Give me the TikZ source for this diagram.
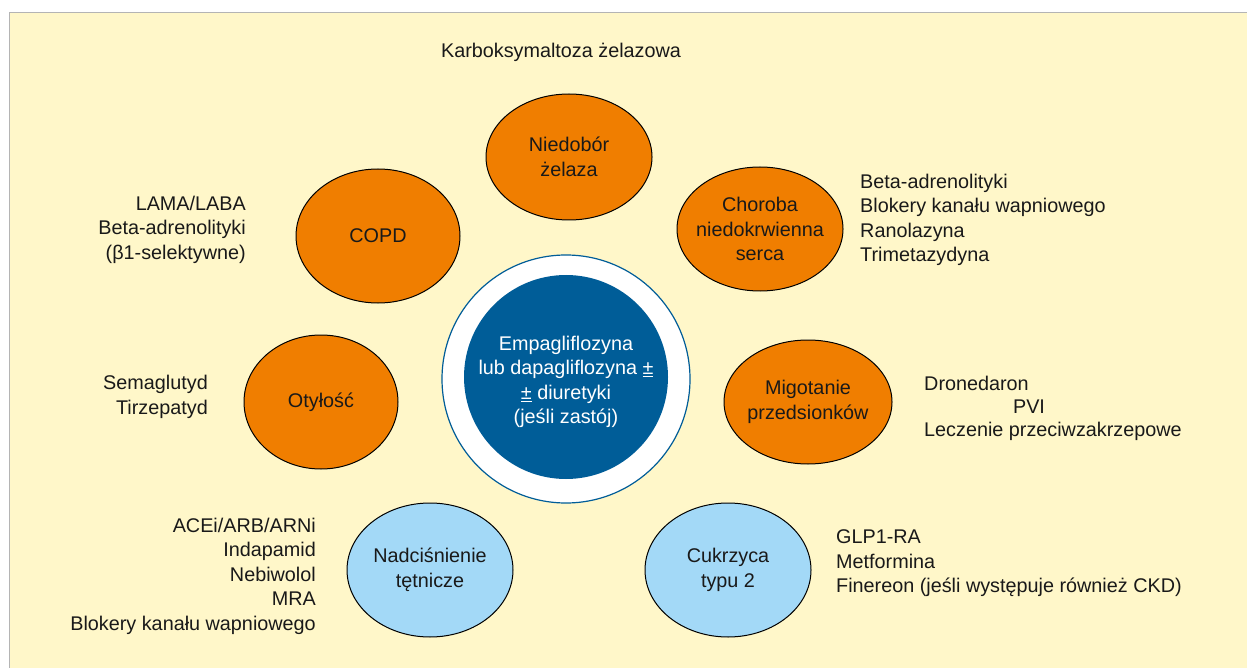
\documentclass[tikz,border=0pt]{standalone}
\usepackage{fontspec}
\setmainfont{Liberation Sans}
\usetikzlibrary{shapes.geometric}
\definecolor{bgyellow}{RGB}{255,247,201}
\definecolor{framegray}{RGB}{180,180,180}
\definecolor{myorange}{RGB}{240,126,0}
\definecolor{lightblue}{RGB}{163,217,247}
\definecolor{darkblue}{RGB}{0,93,152}
\begin{document}
\begin{tikzpicture}[x=1pt,y=-1pt,
  txt/.style={font=\fontsize{19.8}{24.5}\selectfont, inner sep=0pt, text=black!90},
  disease/.style={ellipse, draw=black, line width=1pt, minimum width=166pt, minimum height=126pt, inner sep=0pt},
  orangeell/.style={disease, fill=myorange},
  blueell/.style={disease, fill=lightblue},
  inlabel/.style={txt, align=center},
  leftlist/.style={txt, align=left, anchor=west},
  rightlist/.style={txt, align=right, anchor=east}]
\useasboundingbox (0,0) rectangle (1247,668);
\fill[white] (0,0) rectangle (1247,668);
\fill[bgyellow] (9,12) rectangle (1247,668);
\draw[framegray, line width=1.5pt] (9.5,668) -- (9.5,12.5) -- (1247,12.5);

% central circle
\node[circle, draw=darkblue, line width=1.2pt, fill=white, minimum size=248pt, inner sep=0pt] (outer) at (566,379) {};
\node[circle, fill=darkblue, minimum size=204pt, inner sep=0pt] (center) at (566,377) {};
\node[inlabel, text=white] (centerL) at (566,382)
  {Empagliflozyna\\lub dapagliflozyna \underline{±}\\\underline{±} diuretyki\\(jeśli zastój)};

% diseases
\node[orangeell] (iron) at (569,157) {};
\node[inlabel] (ironL) at (iron.center) {Niedobór\\żelaza};
\node[orangeell, minimum width=164pt, minimum height=134pt] (copd) at (378,236) {};
\node[inlabel] (copdL) at (copd.center) {COPD};
\node[orangeell, minimum height=124pt] (ihd) at (760,229) {};
\node[inlabel] (ihdL) at (ihd.center) {Choroba\\niedokrwienna\\serca};
\node[orangeell, minimum width=154pt, minimum height=134pt] (obes) at (321,402) {};
\node[inlabel] (obesL) at (obes.center) {Otyłość};
\node[orangeell, minimum width=168pt, minimum height=124pt] (af) at (808,402) {};
\node[inlabel] (afL) at (af.center) {Migotanie\\przedsionków};
\node[blueell, minimum height=134pt] (htn) at (430,570) {};
\node[inlabel] (htnL) at (htn.center) {Nadciśnienie\\tętnicze};
\node[blueell, minimum height=134pt] (dm) at (728,570) {};
\node[inlabel] (dmL) at (dm.center) {Cukrzyca\\typu 2};

% treatments
\node[txt] (ironT) at (561,52) {Karboksymaltoza żelazowa};
\node[rightlist] (copdT) at (246,229.5) {LAMA/LABA\\Beta-adrenolityki\\(β1-selektywne)};
\node[leftlist] (ihdT) at (860,220) {Beta-adrenolityki\\Blokery kanału wapniowego\\Ranolazyna\\Trimetazydyna};
\node[rightlist] (obesT) at (208,397) {Semaglutyd\\Tirzepatyd};
\node[txt, anchor=west] (afT1) at (924,383) {Dronedaron};
\node[txt] (afT2) at (1029,407) {PVI};
\node[txt, anchor=west] (afT3) at (924,431) {Leczenie przeciwzakrzepowe};
\node[rightlist] (htnT) at (316,576) {ACEi/ARB/ARNi\\Indapamid\\Nebiwolol\\MRA\\Blokery kanału wapniowego};
\node[leftlist] (dmT) at (836,563.5) {GLP1-RA\\Metformina\\Finereon (jeśli występuje również CKD)};
\end{tikzpicture}
\end{document}
